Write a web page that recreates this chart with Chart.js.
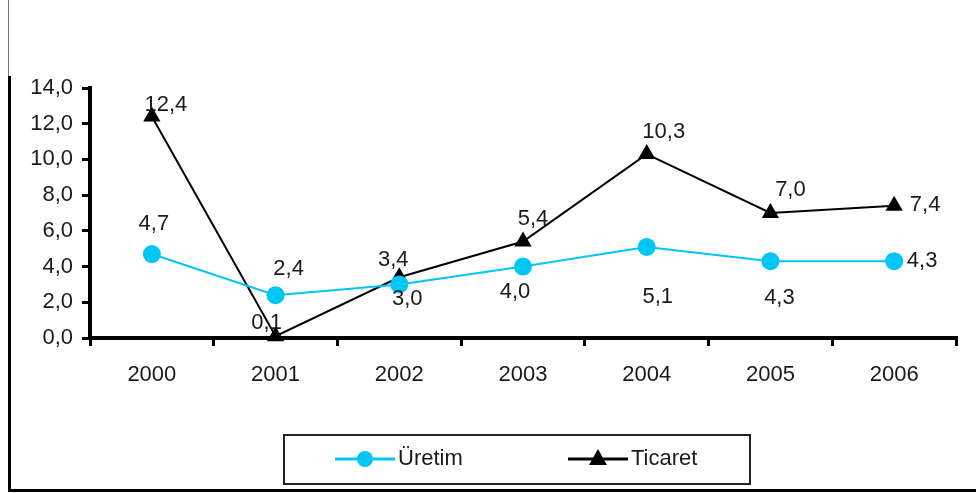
<!DOCTYPE html>
<html>
<head>
<meta charset="utf-8">
<script src="https://cdn.jsdelivr.net/npm/chart.js@4/dist/chart.umd.min.js"></script>
<style>
html,body{margin:0;padding:0;background:#fff;}
#wrap{width:976px;height:493px;position:relative;}
canvas{display:block;}
</style>
</head>
<body>
<div id="wrap"><canvas id="c" width="976" height="493"></canvas></div>
<script>
const categories = ['2000','2001','2002','2003','2004','2005','2006'];
const uretim = [4.7, 2.4, 3.0, 4.0, 5.1, 4.3, 4.3];
const ticaret = [12.4, 0.1, 3.4, 5.4, 10.3, 7.0, 7.4];
const seriesNames = ['Üretim', 'Ticaret'];
const yTicks = [0, 2, 4, 6, 8, 10, 12, 14];

// label offsets (dx, dy) from each point, in pixels
const uretimLabelOffsets = [[2,-30],[13,-26],[8,15],[-8,25],[11,50],[9,37],[28,0]];
const ticaretLabelOffsets = [[14,-12],[-9,-13],[-6,-17],[10,-23],[17,-22],[20,-23],[31,-1]];

const FONT = '"Liberation Sans", Arial, sans-serif';
const fmt = v => v.toFixed(1).replace('.', ',');
const CYAN = '#00C6F6';
const TXT = '#1a1a1a';

const labelPlugin = {
  id: 'valueLabels',
  afterDatasetsDraw(chart) {
    const ctx = chart.ctx;
    ctx.save();
    ctx.font = '22px ' + FONT;
    ctx.fillStyle = TXT;
    ctx.textAlign = 'center';
    ctx.textBaseline = 'middle';
    const offs = [uretimLabelOffsets, ticaretLabelOffsets];
    chart.data.datasets.forEach((ds, di) => {
      const meta = chart.getDatasetMeta(di);
      meta.data.forEach((pt, i) => {
        const o = offs[di][i];
        ctx.fillText(fmt(ds.data[i]), pt.x + o[0], pt.y + o[1]);
      });
    });
    ctx.restore();
  }
};

const framePlugin = {
  id: 'frame',
  beforeDraw(chart) {
    const ctx = chart.ctx;
    ctx.save();
    ctx.fillStyle = '#fff';
    ctx.fillRect(0, 0, chart.width, chart.height);
    ctx.strokeStyle = '#777';
    ctx.lineWidth = 1;
    ctx.beginPath(); ctx.moveTo(8.5, 0); ctx.lineTo(8.5, 76); ctx.stroke();
    ctx.strokeStyle = '#000';
    ctx.lineWidth = 3;
    ctx.beginPath(); ctx.moveTo(9.5, 76); ctx.lineTo(9.5, 490.5); ctx.lineTo(976, 490.5); ctx.stroke();
    ctx.restore();
  },
  afterDraw(chart) {
    const ctx = chart.ctx;
    ctx.save();
    ctx.strokeStyle = '#222';
    ctx.lineWidth = 2;
    ctx.strokeRect(284, 435, 466, 49);
    const y = 459;
    const xs = [335, 568];
    ctx.font = '22px ' + FONT;
    ctx.textBaseline = 'middle';
    chart.data.datasets.forEach((ds, i) => {
      const x0 = xs[i];
      ctx.strokeStyle = ds.borderColor;
      ctx.lineWidth = 3;
      ctx.beginPath(); ctx.moveTo(x0, y); ctx.lineTo(x0 + 60, y); ctx.stroke();
      ctx.fillStyle = ds.pointBackgroundColor;
      const cx = x0 + 30;
      if (ds.pointStyle === 'circle') {
        ctx.beginPath(); ctx.arc(cx, y, 8, 0, Math.PI * 2); ctx.fill();
      } else {
        ctx.beginPath(); ctx.moveTo(cx, y - 10); ctx.lineTo(cx + 9, y + 6); ctx.lineTo(cx - 9, y + 6); ctx.closePath(); ctx.fill();
      }
      ctx.fillStyle = TXT;
      ctx.textAlign = 'left';
      ctx.fillText(ds.label, x0 + 63, y);
    });
    ctx.restore();
  }
};

new Chart(document.getElementById('c'), {
  type: 'line',
  data: {
    labels: categories,
    datasets: [
      {
        label: seriesNames[0], data: uretim,
        borderColor: CYAN, backgroundColor: CYAN, pointBackgroundColor: CYAN, pointBorderColor: CYAN,
        borderWidth: 2, pointStyle: 'circle', pointRadius: 9, pointBorderWidth: 0, tension: 0, clip: false
      },
      {
        label: seriesNames[1], data: ticaret,
        borderColor: '#000', backgroundColor: '#000', pointBackgroundColor: '#000', pointBorderColor: '#000',
        borderWidth: 2, pointStyle: 'triangle', pointRadius: 10, pointBorderWidth: 0, tension: 0, clip: false
      }
    ]
  },
  options: {
    responsive: false,
    animation: false,
    devicePixelRatio: 1,
    layout: { padding: { left: 0, right: 20, top: 88, bottom: 95 } },
    plugins: { legend: { display: false }, tooltip: { enabled: false } },
    scales: {
      x: {
        offset: true,
        grid: { offset: true, drawOnChartArea: false, drawTicks: true, tickLength: 8, color: '#000', lineWidth: 3 },
        border: { display: true, color: '#000', width: 4 },
        ticks: { color: TXT, font: { family: FONT, size: 22 }, padding: 16, maxRotation: 0 },
        afterFit(s) { s.height = 60; }
      },
      y: {
        min: 0, max: 14,
        afterBuildTicks(s) { s.ticks = yTicks.map(v => ({ value: v })); },
        grid: { drawOnChartArea: false, drawTicks: true, tickLength: 8, color: '#000', lineWidth: 3 },
        border: { display: true, color: '#000', width: 4 },
        ticks: { color: TXT, font: { family: FONT, size: 22 }, padding: 9, callback: v => fmt(v) },
        afterFit(s) { s.width = 90; }
      }
    }
  },
  plugins: [framePlugin, labelPlugin]
});
</script>
</body>
</html>
